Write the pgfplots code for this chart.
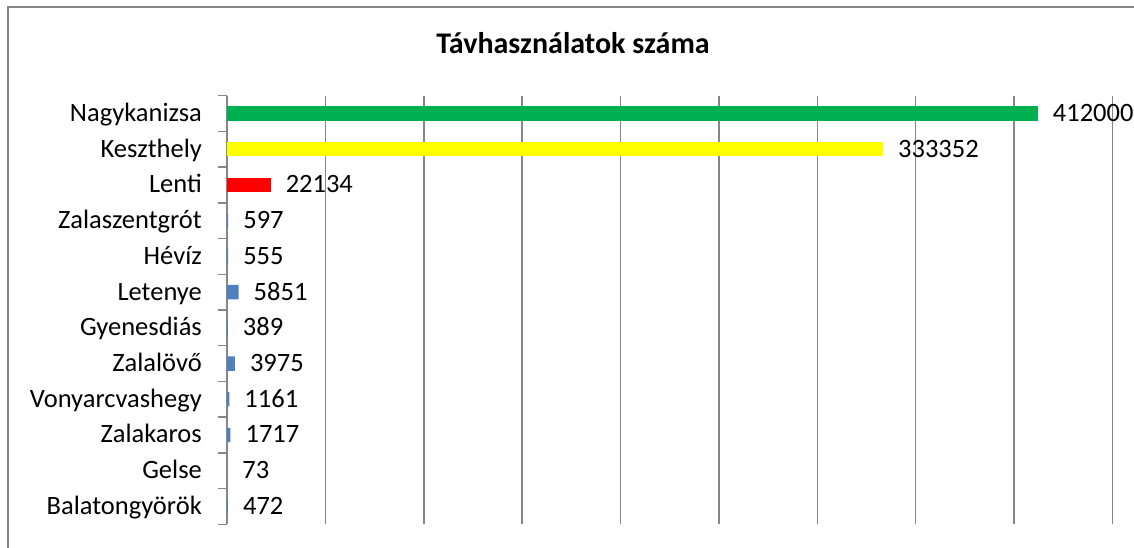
\documentclass[border=0pt]{standalone}
\usepackage{fontspec}
\setmainfont{Carlito}
\usepackage{pgfplots}
\usepackage{pgfplotstable}
\pgfplotsset{compat=1.18}

\definecolor{barGreen}{HTML}{00B050}
\definecolor{barYellow}{HTML}{FFFF00}
\definecolor{barRed}{HTML}{FF0000}
\definecolor{barBlue}{HTML}{4F81BD}
\definecolor{lineGray}{HTML}{878787}

% y = category index from the top
\pgfplotstableread{
x y lbl
412000 0 412000
}\datagreen
\pgfplotstableread{
x y lbl
333352 1 333352
}\datayellow
\pgfplotstableread{
x y lbl
22134 2 22134
}\datared
\pgfplotstableread{
x y lbl
597 3 597
555 4 555
5851 5 5851
389 6 389
3975 7 3975
1161 8 1161
1717 9 1717
73 10 73
472 11 472
}\datablue

\begin{document}
\begin{tikzpicture}
\useasboundingbox (0,0) rectangle (1134bp,548bp);
\draw[lineGray, line width=1.3bp] (8bp,0) -- (8bp,541bp) -- (1134bp,541bp);
\node[anchor=base, inner sep=0pt, font=\fontsize{30bp}{35bp}\selectfont\bfseries]
  at (573bp,494.7bp) {Távhasználatok száma};
\begin{axis}[
    at={(227bp,23.7bp)}, anchor=south west,
    scale only axis, width=885.5bp, height=428.6bp,
    xmin=0, xmax=450000,
    ymin=-0.5, ymax=11.5, y dir=reverse,
    axis lines*=left,
    x axis line style={draw=none},
    y axis line style={lineGray, line width=1.5bp},
    xtick={0,50000,...,450000}, xticklabels=\empty, scaled x ticks=false,
    xmajorgrids, major grid style={lineGray, line width=1.5bp},
    xtick style={draw=none},
    ytick={0,...,11},
    yticklabels={Nagykanizsa,Keszthely,Lenti,Zalaszentgrót,Hévíz,Letenye,Gyenesdiás,Zalalövő,Vonyarcvashegy,Zalakaros,Gelse,Balatongyörök},
    major tick length=0pt,
    minor ytick={-0.5,0.5,...,11.5},
    minor tick length=9bp, tick align=outside,
    minor tick style={lineGray, line width=1.5bp},
    yticklabel style={anchor=base east, inner sep=0pt, xshift=-25bp, yshift=-7.9bp,
        font=\fontsize{26.5bp}{31bp}\selectfont},
    xbar, bar width=14.4bp, bar shift=0pt,
    point meta=explicit symbolic,
    nodes near coords,
    every node near coord/.append style={anchor=base west, inner sep=0pt,
        xshift=15bp, yshift=-7.9bp, text=black, font=\fontsize{26.5bp}{31bp}\selectfont},
    clip=false,
]
\addplot[draw=none, fill=barGreen] table[x=x, y=y, meta=lbl] {\datagreen};
\addplot[draw=none, fill=barYellow] table[x=x, y=y, meta=lbl] {\datayellow};
\addplot[draw=none, fill=barRed] table[x=x, y=y, meta=lbl] {\datared};
\addplot[draw=none, fill=barBlue] table[x=x, y=y, meta=lbl] {\datablue};
\end{axis}
\end{tikzpicture}
\end{document}
